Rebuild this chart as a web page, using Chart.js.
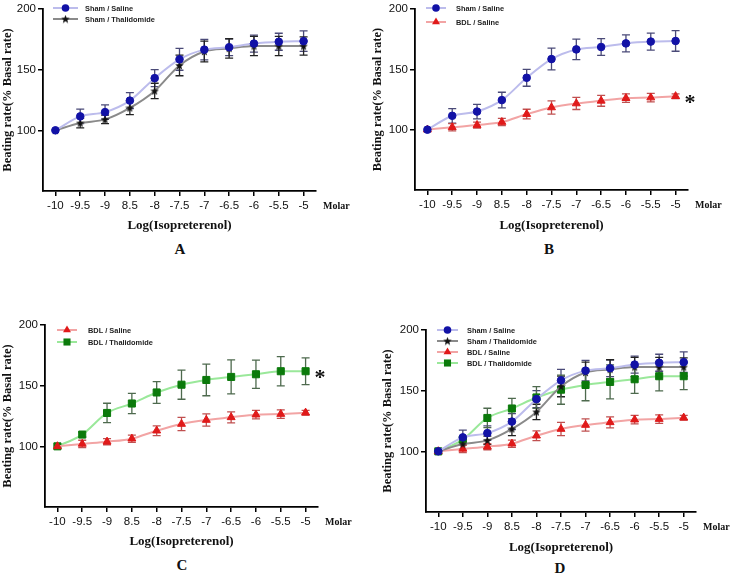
<!DOCTYPE html>
<html><head><meta charset="utf-8">
<script src="https://cdn.jsdelivr.net/npm/chart.js@4/dist/chart.umd.min.js"></script>
<style>
html,body{margin:0;padding:0;background:#fff;width:732px;height:578px;overflow:hidden;}
.panel{position:absolute;}
.letter{position:absolute;font-family:"Liberation Serif","Times New Roman",serif;font-weight:bold;font-size:15px;color:#111;transform:translate(-50%,-50%);}
</style></head><body>
<div class="panel" style="left:0;top:0;width:366px;height:235px"><canvas id="cA"></canvas></div>
<div class="panel" style="left:366px;top:0;width:366px;height:235px"><canvas id="cB"></canvas></div>
<div class="panel" style="left:0;top:290px;width:366px;height:261px"><canvas id="cC"></canvas></div>
<div class="panel" style="left:366px;top:290px;width:366px;height:267px"><canvas id="cD"></canvas></div>
<div class="letter" style="left:180px;top:249px">A</div>
<div class="letter" style="left:549px;top:249px">B</div>
<div class="letter" style="left:182px;top:565px">C</div>
<div class="letter" style="left:560px;top:568px">D</div>
<script>
// ---- data ----
const xLabels = ["-10","-9.5","-9","8.5","-8","-7.5","-7","-6.5","-6","-5.5","-5"];
const yTicks = [100,150,200];
const shamSaline    = [100,111.5,115,124.5,143,158.5,166.5,168.5,171.5,173,173.5];
const shamSalineErr = [0,6,6,6.5,7,9,8.5,7,7,7,8.5];
const shamThal      = [100,106,109,118.5,132.5,153.5,165,167.5,169.5,169.5,169.5];
const shamThalErr   = [0,4,3.5,5.5,6.3,8.5,8.5,8,8,8,7.5];
const bdlSaline     = [100,102,103.8,106.3,112.9,118.4,121.7,123.9,126.1,126.6,127.7];
const bdlSalineErr  = [0,3,2.5,3,4,5.5,5,4.5,3.5,3.5,2];
const bdlThal       = [100,109.7,127.5,135.3,144.4,150.8,154.7,157.2,159.4,161.9,161.9];
const bdlThalErr    = [0,2,8,8.3,9,12,13,14,11.7,12,11];

function makeStar(size, color){
  const c=document.createElement('canvas'); c.width=c.height=size;
  const g=c.getContext('2d'); const cx=size/2, cy=size/2+0.4, R=size/2, r=R*0.42;
  g.beginPath();
  for(let i=0;i<10;i++){const a=-Math.PI/2+i*Math.PI/5; const rr=i%2?r:R; g.lineTo(cx+rr*Math.cos(a),cy+rr*Math.sin(a));}
  g.closePath(); g.fillStyle=color; g.fill(); return c;
}
const starImg = makeStar(9,'#111');

const series = {
  shamSaline:{label:'Sham / Saline',data:shamSaline,err:shamSalineErr,style:'circle',radius:3.8,pc:'#1212a6',lc:'#bcbcec',ec:'#4a4a78'},
  shamThal:{label:'Sham / Thalidomide',data:shamThal,err:shamThalErr,style:starImg,radius:4,pc:'#111',lc:'#8a8a8a',ec:'#222'},
  bdlSaline:{label:'BDL / Saline',data:bdlSaline,err:bdlSalineErr,style:'triangle',radius:4.6,pc:'#e01a1a',lc:'#f2a4a4',ec:'#c05050'},
  bdlThal:{label:'BDL / Thalidomide',data:bdlThal,err:bdlThalErr,style:'rect',radius:5,pc:'#0b7a0b',lc:'#9ae89a',ec:'#4e6a4e'}
};

const panels = [
  {id:'cA',W:366,H:235,area:{l:43,t:9,r:316,b:191},yPad:0.5,keys:['shamSaline','shamThal'],legend:{x0:53,x1:78,tx:85,ys:[8,19]}},
  {id:'cB',W:366,H:235,area:{l:49,t:9,r:322,b:190},yPad:4.5,keys:['shamSaline','bdlSaline'],legend:{x0:60,x1:80,tx:90,ys:[8,22]},star:'bdlSaline'},
  {id:'cC',W:366,H:261,area:{l:45,t:35,r:318,b:217},yPad:0.5,keys:['bdlSaline','bdlThal'],legend:{x0:57,x1:77,tx:88,ys:[40,52]},star:'bdlThal'},
  {id:'cD',W:366,H:267,area:{l:60,t:40,r:330,b:222},yPad:14.5,keys:['shamSaline','shamThal','bdlSaline','bdlThal'],legend:{x0:71,x1:92,tx:101,ys:[40,51,62,73]}}
];

function drawMarker(ctx, s, x, y){
  ctx.save();
  ctx.fillStyle=s.pc; ctx.strokeStyle=s.pc; ctx.lineWidth=1;
  if (typeof s.style !== 'string'){ ctx.drawImage(s.style, x-s.style.width/2, y-s.style.height/2); }
  else if (s.style==='circle'){ ctx.beginPath(); ctx.arc(x,y,s.radius,0,Math.PI*2); ctx.fill(); }
  else if (s.style==='triangle'){ const r=s.radius; ctx.beginPath(); ctx.moveTo(x,y-r); ctx.lineTo(x+r*0.866*1.0,y+r*0.5); ctx.lineTo(x-r*0.866,y+r*0.5); ctx.closePath(); ctx.fill(); }
  else { const h=s.radius*Math.SQRT1_2; ctx.fillRect(x-h,y-h,2*h,2*h); }
  ctx.restore();
}

const extras = {
  id:'extras',
  beforeDatasetsDraw(chart){
    const p=chart.options.plugins.extras; const ctx=chart.ctx;
    const xs=chart.scales.x, ys=chart.scales.y;
    p.keys.forEach(k=>{
      const s=series[k];
      ctx.save(); ctx.strokeStyle=s.ec; ctx.lineWidth=1.3;
      s.data.forEach((v,i)=>{
        const e=s.err[i]; if(!e) return;
        const x=xs.getPixelForValue(i), y1=ys.getPixelForValue(v+e), y2=ys.getPixelForValue(v-e);
        ctx.beginPath();
        ctx.moveTo(x,y1); ctx.lineTo(x,y2);
        ctx.moveTo(x-4,y1); ctx.lineTo(x+4,y1);
        ctx.moveTo(x-4,y2); ctx.lineTo(x+4,y2);
        ctx.stroke();
      });
      ctx.restore();
    });
  },
  afterDraw(chart){
    const p=chart.options.plugins.extras; const ctx=chart.ctx; const a=chart.chartArea;
    const xs=chart.scales.x, ys=chart.scales.y;
    // legend
    p.keys.forEach((k,i)=>{
      const s=series[k], y=p.legend.ys[i];
      ctx.save();
      ctx.strokeStyle=s.lc; ctx.lineWidth=2;
      ctx.beginPath(); ctx.moveTo(p.legend.x0,y); ctx.lineTo(p.legend.x1,y); ctx.stroke();
      drawMarker(ctx,s,(p.legend.x0+p.legend.x1)/2,y);
      ctx.fillStyle='#222'; ctx.font='bold 7.4px "Liberation Sans", Arial, sans-serif';
      ctx.textBaseline='middle'; ctx.textAlign='left';
      ctx.fillText(s.label,p.legend.tx,y+0.5);
      ctx.restore();
    });
    // Molar
    ctx.save();
    ctx.fillStyle='#111'; ctx.font='bold 10px "Liberation Serif", "Times New Roman", serif';
    ctx.textBaseline='middle'; ctx.textAlign='left';
    ctx.fillText('Molar', a.right+7, a.bottom+15);
    // asterisk
    if (p.star){
      const s=series[p.star]; const n=s.data.length-1;
      const x=xs.getPixelForValue(n)+13, y=ys.getPixelForValue(s.data[n]);
      ctx.font='bold 22px "Liberation Serif", "Times New Roman", serif';
      ctx.textBaseline='alphabetic';
      ctx.fillText('*', x-4, y+13);
    }
    ctx.restore();
  }
};

panels.forEach(P=>{
  const datasets = P.keys.map(k=>{
    const s=series[k];
    return {label:s.label,data:s.data,borderColor:s.lc,backgroundColor:s.pc,pointBackgroundColor:s.pc,pointBorderColor:s.pc,
      pointStyle:s.style,pointRadius:s.radius,pointBorderWidth:1,borderWidth:2,cubicInterpolationMode:'monotone',fill:false};
  });
  const canvas=document.getElementById(P.id);
  canvas.width=P.W; canvas.height=P.H;
  new Chart(canvas,{
    type:'line',
    data:{labels:xLabels,datasets},
    plugins:[extras],
    options:{
      responsive:false,animation:false,devicePixelRatio:1,
      layout:{padding:{left:0,top:P.area.t,right:P.W-P.area.r,bottom:0}},
      plugins:{legend:{display:false},tooltip:{enabled:false},
        extras:{keys:P.keys,legend:P.legend,star:P.star}},
      scales:{
        x:{type:'category',offset:true,
          afterFit(s){s.height=P.H-P.area.b;},
          grid:{display:true,drawOnChartArea:false,drawTicks:true,tickLength:5,color:'#000',lineWidth:1.5},
          border:{display:true,color:'#000',width:1.8},
          ticks:{autoSkip:false,maxRotation:0,padding:3,color:'#111',font:{family:'"Liberation Sans", Arial, sans-serif',size:11.5}},
          title:{display:true,text:'Log(Isopreterenol)',color:'#111',padding:{top:0,bottom:2},font:{family:'"Liberation Serif", "Times New Roman", serif',size:13,weight:'bold'}}
        },
        y:{min:50,max:200,
          afterFit(s){s.width=P.area.l;},
          afterBuildTicks(s){s.ticks=yTicks.map(v=>({value:v}));},
          grid:{display:true,drawOnChartArea:false,drawTicks:true,tickLength:5,color:'#000',lineWidth:1.5},
          border:{display:true,color:'#000',width:1.8},
          ticks:{padding:2,color:'#111',font:{family:'"Liberation Sans", Arial, sans-serif',size:11.5}},
          title:{display:true,text:'Beating rate(% Basal rate)',color:'#111',padding:{top:P.yPad,bottom:0},font:{family:'"Liberation Serif", "Times New Roman", serif',size:12.5,weight:'bold'}}
        }
      }
    }
  });
});
</script>
</body></html>
